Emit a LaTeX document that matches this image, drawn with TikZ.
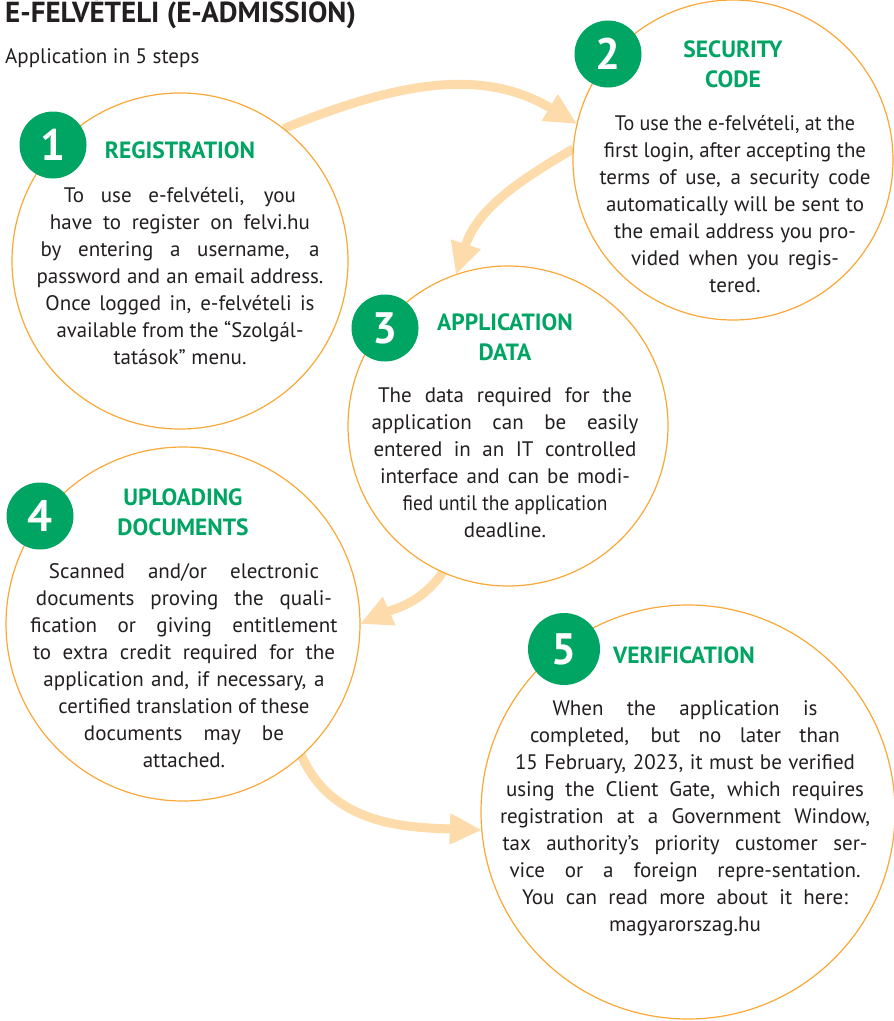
\documentclass[tikz,border=0pt]{standalone}
\usepackage{fontspec}
\usepackage{graphicx}
\setmainfont{PT Sans}
\usetikzlibrary{arrows.meta}
\pgfdeclarelayer{bg}
\pgfsetlayers{bg,main}
\definecolor{sgreen}{RGB}{0,165,99}
\definecolor{ringc}{RGB}{249,168,56}
\definecolor{peach}{RGB}{253,219,170}
\definecolor{ink}{RGB}{35,31,32}
\newlength\jlw
\newcommand\jl[2]{\settowidth\jlw{#2}\ifdim\jlw>#1pt\resizebox{#1pt}{\height}{#2}\else\makebox[#1pt][s]{#2}\fi}
\newcommand\bodyfont{\fontsize{21}{27}\selectfont}
\tikzset{
  stepring/.style={circle, draw=ringc, line width=1.2pt, fill=white, inner sep=0pt, outer sep=0pt},
  badge/.style={circle, fill=sgreen, text=white, minimum size=67pt, inner sep=0pt, font=\fontsize{44}{44}\selectfont\bfseries},
  headtxt/.style={text=sgreen, font=\fontsize{23.5}{30}\selectfont\bfseries, anchor=base, inner sep=0pt},
  bodytxt/.style={text=ink, anchor=base, inner sep=0pt, font=\bodyfont},
  flow/.style={draw=peach, line width=9pt, -{Triangle[length=32pt,width=29pt]}}
}
\begin{document}
\begin{tikzpicture}[x=1pt,y=1pt]
\useasboundingbox (0,0) rectangle (894,-1021);
% title
\node[anchor=base west, inner sep=0pt, text=ink, font=\fontsize{29}{32}\selectfont\bfseries] (title) at (5,-22) {E-FELVÉTELI (E-ADMISSION)};
\node[anchor=base west, inner sep=0pt, text=ink, font=\fontsize{21}{24}\selectfont] (sub) at (5,-63) {Application in 5 steps};
% circles
\node[stepring, minimum size=336pt] (c1) at (180,-261) {};
\node[stepring, minimum size=320pt] (c2) at (733,-160) {};
\node[stepring, minimum size=320pt] (c3) at (508,-426) {};
\node[stepring, minimum size=354pt] (c4) at (183,-624) {};
\node[stepring, minimum size=414pt] (c5) at (688,-812) {};
% arrows
\begin{pgfonlayer}{bg}
\draw[flow] (c1.52) to[out=22, in=149] (c2.167);
\draw[flow] (c2.176) to[out=210, in=72] (c3.109);
\draw[flow] (c3.246) to[out=235, in=24] (c4.0);
\draw[flow] (c4.-48) to[out=-66, in=178] (c5.185);
\end{pgfonlayer}
% badges
\node[badge] (b1) at (53,-145) {1};
\node[badge] (b2) at (608,-54) {2};
\node[badge] (b3) at (385,-328) {3};
\node[badge] (b4) at (40,-516) {4};
\node[badge, minimum size=72pt] (b5) at (564,-649) {5};
% headings
\node[headtxt] (h1) at (180,-158) {REGISTRATION};
\node[headtxt] (h2) at (733,-57) {\parbox[t]{220pt}{\centering SECURITY\\CODE}};
\node[headtxt] (h3) at (505,-330) {\parbox[t]{220pt}{\centering APPLICATION\\DATA}};
\node[headtxt] (h4) at (183,-505) {\parbox[t]{220pt}{\centering UPLOADING\\DOCUMENTS}};
\node[headtxt] (h5) at (684,-663) {VERIFICATION};
% bodies
\node[bodytxt] (t1) at (180,-202) {\parbox[t]{360pt}{\centering\bodyfont
\jl{232}{To use e-felvételi, you}\\
\jl{260}{have to register on felvi.hu}\\
\jl{279}{by entering a username, a}\\
\jl{287}{password and an email address.}\\
\jl{269}{Once logged in, e-felvételi is}\\
\jl{247}{available from the “Szolgál-}\\
tatások” menu.}};
\node[bodytxt] (t2) at (735,-130) {\parbox[t]{360pt}{\centering\bodyfont
\jl{240}{To use the e-felvételi, at the}\\
\jl{262}{first login, after accepting the}\\
\jl{271}{terms of use, a security code}\\
\jl{258}{automatically will be sent to}\\
\jl{242}{the email address you pro-}\\
\jl{208}{vided when you regis-}\\
tered.}};
\node[bodytxt] (t3) at (505,-402) {\parbox[t]{360pt}{\centering\bodyfont
\jl{254}{The data required for the}\\
\jl{267}{application can be easily}\\
\jl{263}{entered in an IT controlled}\\
\jl{250}{interface and can be modi-}\\
\jl{205}{fied until the application}\\
deadline.}};
\node[bodytxt] (t4) at (184,-578) {\parbox[t]{360pt}{\centering\bodyfont
\jl{270}{Scanned and/or electronic}\\
\jl{296}{documents proving the quali-}\\
\jl{307}{fication or giving entitlement}\\
\jl{302}{to extra credit required for the}\\
\jl{281}{application and, if necessary, a}\\
\jl{251}{certified translation of these}\\
\jl{200}{documents may be}\\
attached.}};
\node[bodytxt] (t5) at (685,-715) {\parbox[t]{400pt}{\centering\bodyfont
\jl{265}{When the application is}\\
\jl{310}{completed, but no later than}\\
\jl{340}{15 February, 2023, it must be verified}\\
\jl{358}{using the Client Gate, which requires}\\
\jl{370}{registration at a Government Window,}\\
\jl{365}{tax authority’s priority customer ser-}\\
\jl{351}{vice or a foreign repre-sentation.}\\
\jl{326}{You can read more about it here:}\\
magyarorszag.hu}};
\end{tikzpicture}
\end{document}
